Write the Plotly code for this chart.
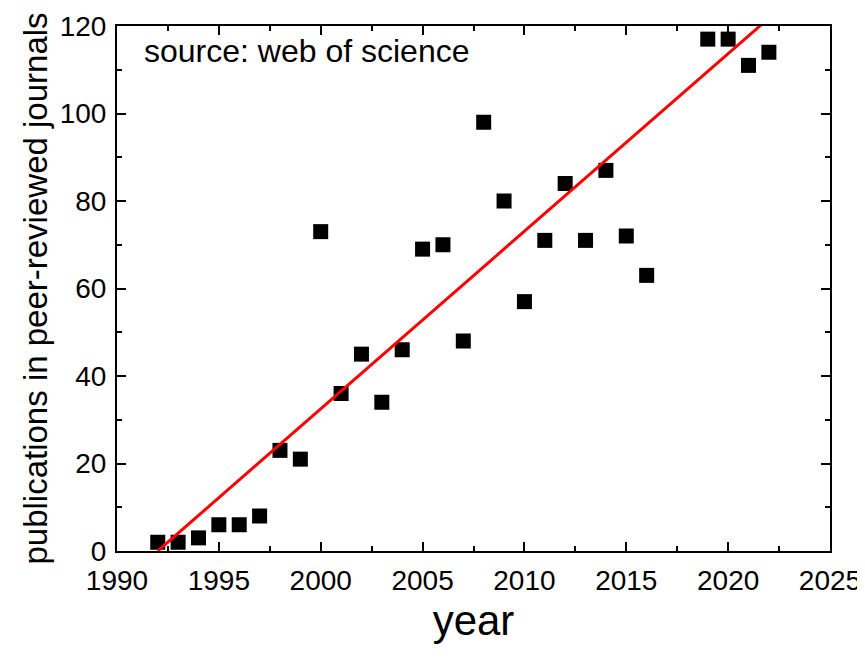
import plotly.graph_objects as go

years = [1992, 1993, 1994, 1995, 1996, 1997, 1998, 1999, 2000, 2001, 2002, 2003, 2004,
         2005, 2006, 2007, 2008, 2009, 2010, 2011, 2012, 2013, 2014, 2015, 2016,
         2019, 2020, 2021, 2022]
pubs = [2, 2, 3, 6, 6, 8, 23, 21, 73, 36, 45, 34, 46,
        69, 70, 48, 98, 80, 57, 71, 84, 71, 87, 72, 63,
        117, 117, 111, 114]
fit_x = [1992, 2022]
fit_y = [0, 121.8]

fig = go.Figure()
fig.add_trace(go.Scatter(x=years, y=pubs, mode="markers",
                         marker=dict(symbol="square", size=15, color="black",
                                     line=dict(width=0)),
                         cliponaxis=False, showlegend=False))
fig.add_trace(go.Scatter(x=fit_x, y=fit_y, mode="lines",
                         line=dict(color="#ff0000", width=3),
                         cliponaxis=True, showlegend=False))

font = "Liberation Sans, Arial, sans-serif"
fig.update_layout(
    width=857, height=649,
    margin=dict(l=109, r=35, t=18, b=106),
    plot_bgcolor="white", paper_bgcolor="white",
    font=dict(family=font, color="black"),
    xaxis=dict(range=[1990, 2025], tickvals=[1990, 1995, 2000, 2005, 2010, 2015, 2020, 2025],
               ticks="inside", ticklen=9, tickwidth=2, tickcolor="black",
               minor=dict(ticks="inside", ticklen=5, tickwidth=2, tickcolor="black", dtick=2.5),
               showline=True, linewidth=2, linecolor="black", mirror="ticks",
               showgrid=False, zeroline=False, automargin=False,
               tickfont=dict(size=28, family=font), ticklabelstandoff=3,
               title=dict(text="year", font=dict(size=42, family=font), standoff=11)),
    yaxis=dict(range=[0, 120], tickvals=[0, 20, 40, 60, 80, 100, 120],
               ticks="inside", ticklen=9, tickwidth=2, tickcolor="black",
               minor=dict(ticks="inside", ticklen=5, tickwidth=2, tickcolor="black", dtick=10),
               showline=True, linewidth=2, linecolor="black", mirror="ticks",
               showgrid=False, zeroline=False, automargin=False,
               tickfont=dict(size=28, family=font), ticklabelstandoff=3,
               title=dict(text="publications in peer-reviewed journals",
                          font=dict(size=33, family=font), standoff=2)),
    annotations=[dict(text="source: web of science", xref="paper", yref="paper",
                      x=0.035, y=0.99, xanchor="left", yanchor="top", showarrow=False,
                      font=dict(size=32, family=font, color="black"))],
)
fig.write_html("out.html")
